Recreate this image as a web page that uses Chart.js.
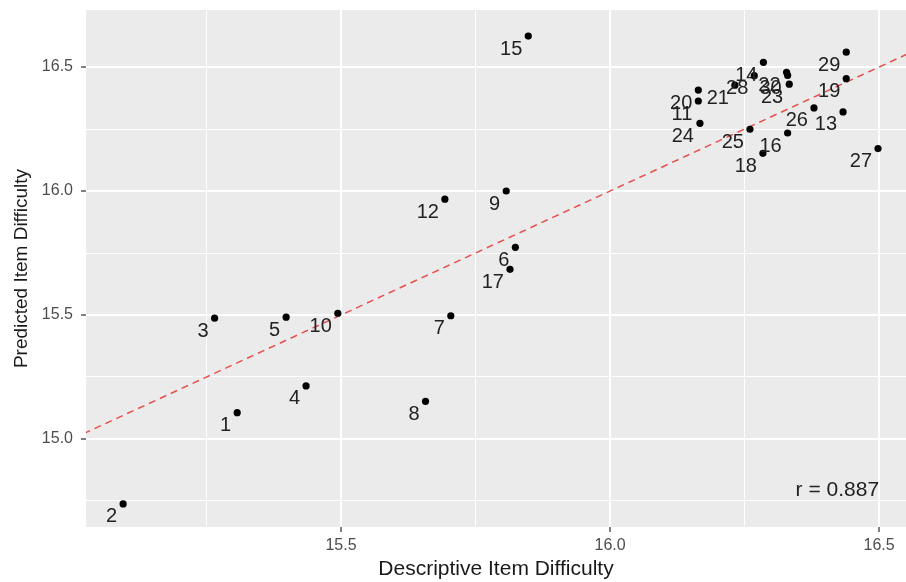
<!DOCTYPE html>
<html>
<head>
<meta charset="utf-8">
<title>Descriptive vs Predicted Item Difficulty</title>
<script src="https://cdn.jsdelivr.net/npm/chart.js@4.4.1/dist/chart.umd.min.js"></script>
<style>
  html, body { margin: 0; padding: 0; background: #ffffff; }
  #wrap { width: 906px; height: 582px; }
  canvas { display: block; }
</style>
</head>
<body>
<div id="wrap"><canvas id="scatterChart" width="906" height="582"></canvas></div>
<script>
// item numbers
var itemLabels = ['1', '2', '3', '4', '5', '6', '7', '8', '9', '10',
  '11', '12', '13', '14', '15', '16', '17', '18', '19', '20',
  '21', '22', '23', '24', '25', '26', '27', '28', '29', '30'];
// x: descriptive difficulty
var descriptive = [15.307, 15.095, 15.265, 15.435, 15.398, 15.824, 15.704, 15.657, 15.807, 15.494,
  16.164, 15.693, 16.433, 16.285, 15.848, 16.330, 15.814, 16.284, 16.439, 16.164,
  16.232, 16.328, 16.333, 16.167, 16.260, 16.379, 16.498, 16.268, 16.439, 16.330];
// y: predicted difficulty
var predicted = [15.106, 14.738, 15.487, 15.214, 15.491, 15.773, 15.497, 15.152, 16.000, 15.507,
  16.363, 15.967, 16.319, 16.519, 16.625, 16.234, 15.684, 16.152, 16.453, 16.407,
  16.427, 16.479, 16.431, 16.273, 16.249, 16.335, 16.171, 16.465, 16.560, 16.466];

// reference line y = x
var refLineX = [14.9, 16.7];
var refLineY = [14.9, 16.7];

var xTicks = [15.25, 15.5, 15.75, 16.0, 16.25, 16.5];
var xMajor = [15.5, 16.0, 16.5];
var yTicks = [14.75, 15.0, 15.25, 15.5, 15.75, 16.0, 16.25, 16.5];
var yMajor = [15.0, 15.5, 16.0, 16.5];

var corrText = 'r = 0.887';

var points = descriptive.map(function (d, i) { return { x: d, y: predicted[i] }; });
var refLine = refLineX.map(function (d, i) { return { x: d, y: refLineY[i] }; });

var FONT = '"Liberation Sans", Arial, sans-serif';

// grey ggplot panel
var panelBg = {
  id: 'panelBg',
  beforeDraw: function (chart) {
    var a = chart.chartArea, ctx = chart.ctx;
    ctx.save();
    ctx.fillStyle = '#ebebeb';
    ctx.fillRect(a.left, a.top, a.right - a.left, a.bottom - a.top);
    ctx.restore();
  }
};

// item numbers next to each point + r annotation
var pointText = {
  id: 'pointText',
  afterDatasetsDraw: function (chart) {
    var ctx = chart.ctx;
    var meta = chart.getDatasetMeta(0);
    ctx.save();
    ctx.font = '20px ' + FONT;
    ctx.fillStyle = '#222222';
    ctx.textAlign = 'right';
    ctx.textBaseline = 'middle';
    meta.data.forEach(function (el, i) {
      ctx.fillText(itemLabels[i], el.x - 6, el.y + 13);
    });
    var xs = chart.scales.x, ys = chart.scales.y;
    ctx.font = '21px ' + FONT;
    ctx.fillText(corrText, xs.getPixelForValue(16.5), ys.getPixelForValue(14.795));
    ctx.restore();
  }
};

function gridWidth(major) {
  return function (c) { return c.tick && major.indexOf(c.tick.value) >= 0 ? 2 : 1; };
}
function tickCol(major) {
  return function (c) { return c.tick && major.indexOf(c.tick.value) >= 0 ? '#555555' : 'rgba(0,0,0,0)'; };
}

var ctx = document.getElementById('scatterChart').getContext('2d');
var chart = new Chart(ctx, {
  type: 'scatter',
  data: {
    datasets: [{
      label: 'items',
      data: points,
      pointRadius: 3.6,
      pointBackgroundColor: '#000000',
      pointBorderWidth: 0
    }, {
      label: 'y = x',
      data: refLine,
      showLine: true,
      pointRadius: 0,
      borderColor: '#e6504c',
      borderWidth: 1.5,
      borderDash: [7, 5]
    }]
  },
  options: {
    responsive: false,
    animation: false,
    devicePixelRatio: 1,
    layout: { autoPadding: false, padding: { top: 10, right: 0, bottom: 0, left: 0 } },
    plugins: {
      legend: { display: false },
      tooltip: { enabled: false }
    },
    scales: {
      x: {
        type: 'linear',
        min: 15.026,
        max: 16.55,
        afterBuildTicks: function (scale) {
          scale.ticks = xTicks.map(function (v) { return { value: v }; });
        },
        afterFit: function (scale) {
          scale.height = 55;
          scale.paddingLeft = 0;
          scale.paddingRight = 0;
        },
        border: { display: false },
        grid: {
          color: '#ffffff',
          lineWidth: gridWidth(xMajor),
          tickColor: tickCol(xMajor),
          tickLength: 5,
          tickWidth: 1.5
        },
        ticks: {
          padding: 4,
          maxRotation: 0,
          autoSkip: false,
          color: '#4d4d4d',
          font: { family: FONT, size: 16 },
          callback: function (v) { return xMajor.indexOf(v) >= 0 ? v.toFixed(1) : ''; }
        },
        title: {
          display: true,
          text: 'Descriptive Item Difficulty',
          color: '#1a1a1a',
          font: { family: FONT, size: 21 },
          padding: { top: 0, bottom: 0 }
        }
      },
      y: {
        type: 'linear',
        min: 14.645,
        max: 16.73,
        afterBuildTicks: function (scale) {
          scale.ticks = yTicks.map(function (v) { return { value: v }; });
        },
        afterFit: function (scale) {
          scale.width = 86;
          scale.paddingTop = 0;
          scale.paddingBottom = 0;
        },
        border: { display: false },
        grid: {
          color: '#ffffff',
          lineWidth: gridWidth(yMajor),
          tickColor: tickCol(yMajor),
          tickLength: 5,
          tickWidth: 1.5
        },
        ticks: {
          padding: 8,
          autoSkip: false,
          color: '#4d4d4d',
          font: { family: FONT, size: 16 },
          callback: function (v) { return yMajor.indexOf(v) >= 0 ? v.toFixed(1) : ''; }
        },
        title: {
          display: true,
          text: 'Predicted Item Difficulty',
          color: '#1a1a1a',
          font: { family: FONT, size: 19 },
          padding: { top: 10, bottom: 0 }
        }
      }
    }
  },
  plugins: [panelBg, pointText]
});
</script>
</body>
</html>
